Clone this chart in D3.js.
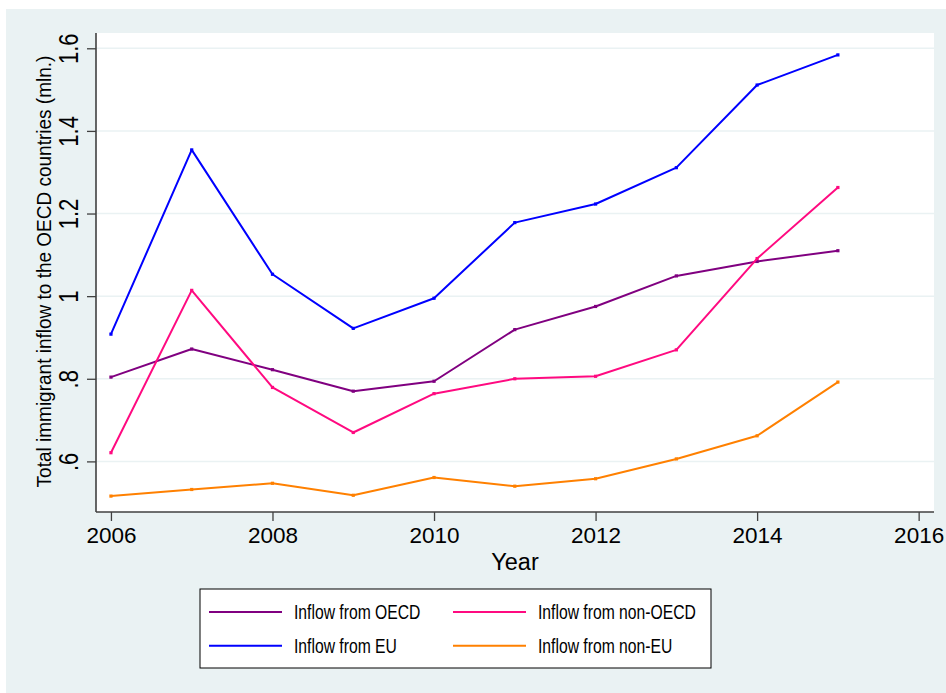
<!DOCTYPE html>
<html>
<head>
<meta charset="utf-8">
<script src="https://cdn.jsdelivr.net/npm/d3@7"></script>
<style>
html,body{margin:0;padding:0;background:#ffffff;}
svg{display:block;font-family:"Liberation Sans",Arial,sans-serif;}
</style>
</head>
<body>
<svg id="chart" width="946" height="693"></svg>
<script>
const years = [2006, 2007, 2008, 2009, 2010, 2011, 2012, 2013, 2014, 2015];
const inflowOECD    = [0.804, 0.872, 0.822, 0.770, 0.794, 0.919, 0.975, 1.049, 1.084, 1.110];
const inflowNonOECD = [0.621, 1.014, 0.779, 0.670, 0.764, 0.800, 0.806, 0.870, 1.091, 1.263];
const inflowEU      = [0.908, 1.354, 1.053, 0.922, 0.995, 1.178, 1.223, 1.311, 1.511, 1.584];
const inflowNonEU   = [0.516, 0.532, 0.547, 0.518, 0.561, 0.540, 0.558, 0.606, 0.662, 0.792];
const xTicks = [2006, 2008, 2010, 2012, 2014, 2016];
const yTicks = [0.6, 0.8, 1.0, 1.2, 1.4, 1.6];
const yTickLabels = [".6", ".8", "1", "1.2", "1.4", "1.6"];
const seriesNames = ["Inflow from OECD", "Inflow from non-OECD", "Inflow from EU", "Inflow from non-EU"];
const seriesColors = ["#800080", "#FF0A80", "#0000FF", "#FF8000"];
const seriesValues = [inflowOECD, inflowNonOECD, inflowEU, inflowNonEU];

const svg = d3.select("#chart");
const W = 946, H = 693;
svg.append("rect").attr("x",0).attr("y",0).attr("width",W).attr("height",H).attr("fill","#ffffff");
svg.append("rect").attr("x",6).attr("y",9).attr("width",W-6).attr("height",H-9).attr("fill","#EAF2F3");

const plot = {left:96, top:33, right:934, bottom:512};
svg.append("rect").attr("x",plot.left).attr("y",plot.top)
  .attr("width",plot.right-plot.left).attr("height",plot.bottom-plot.top).attr("fill","#ffffff");

const x = d3.scaleLinear().domain([2005.815, 2016.19]).range([plot.left, plot.right]);
const y = d3.scaleLinear().domain([0.4775, 1.637]).range([plot.bottom, plot.top]);

// gridlines
svg.append("g").selectAll("line").data(yTicks).join("line")
  .attr("x1",plot.left).attr("x2",plot.right)
  .attr("y1",d=>y(d)).attr("y2",d=>y(d))
  .attr("stroke","#EAF2F3").attr("stroke-width",1.5);

// axes
const xAxis = d3.axisBottom(x).tickValues(xTicks).tickFormat(d3.format("d")).tickSize(9).tickSizeOuter(0);
const gx = svg.append("g").attr("transform",`translate(0,${plot.bottom})`).call(xAxis);
gx.select(".domain").attr("stroke","#404040").attr("stroke-width",1.6)
  .attr("d",`M${plot.left},0H${plot.right}`);
gx.selectAll(".tick line").attr("stroke","#404040").attr("stroke-width",1.3);
gx.selectAll(".tick text").attr("font-size","22.5px").attr("fill","#000")
  .attr("font-family","'Liberation Sans',Arial,sans-serif").attr("dy","0").attr("y",31);

const yAxis = d3.axisLeft(y).tickValues(yTicks).tickFormat((d,i)=>yTickLabels[i]).tickSize(9).tickSizeOuter(0);
const gy = svg.append("g").attr("transform",`translate(${plot.left},0)`).call(yAxis);
gy.select(".domain").attr("stroke","#404040").attr("stroke-width",1.6)
  .attr("d",`M0,${plot.bottom}V${plot.top}`);
gy.selectAll(".tick line").attr("stroke","#404040").attr("stroke-width",1.3);
gy.selectAll(".tick text").attr("font-size","22px").attr("fill","#000")
  .attr("font-family","'Liberation Sans',Arial,sans-serif")
  .attr("x",null).attr("dy",null)
  .attr("text-anchor","middle")
  .attr("transform","translate(-28,0) rotate(-90) scale(1,1.22)")
  .attr("y",0).attr("dy","0.36em");

// axis titles
svg.append("text").attr("x",(plot.left+plot.right)/2).attr("y",570)
  .attr("text-anchor","middle").attr("font-size","23.5px").attr("fill","#000").text("Year");
svg.append("text").attr("transform",`translate(51,271.5) rotate(-90) scale(1,1.1)`)
  .attr("text-anchor","middle").attr("font-size","19px").attr("fill","#000")
  .text("Total immigrant inflow to the OECD countries (mln.)");

// lines
const line = d3.line().x((d,i)=>x(years[i])).y(d=>y(d));
seriesValues.forEach((vals, k) => {
  svg.append("path").datum(vals).attr("d", line)
    .attr("fill","none").attr("stroke",seriesColors[k]).attr("stroke-width",2)
    .attr("stroke-linejoin","round");
  svg.append("g").selectAll("rect").data(vals).join("rect")
    .attr("x",(d,i)=>x(years[i])-1.6).attr("y",d=>y(d)-1.6)
    .attr("width",3.2).attr("height",3.2).attr("fill",seriesColors[k]);
});

// legend
const lg = svg.append("g");
lg.append("rect").attr("x",200).attr("y",589).attr("width",511).attr("height",79)
  .attr("fill","#ffffff").attr("stroke","#000").attr("stroke-width",1);
seriesNames.forEach((name, k) => {
  const col = k % 2, row = Math.floor(k/2);
  const lx = 209 + col*244, ly = 612 + row*33.7;
  lg.append("line").attr("x1",lx).attr("x2",lx+73).attr("y1",ly).attr("y2",ly)
    .attr("stroke",seriesColors[k]).attr("stroke-width",2);
  lg.append("text").attr("transform",`translate(${lx+85},${ly+7.3}) scale(1,1.25)`)
    .attr("font-size","15.7px").attr("fill","#000").text(name);
});
</script>
</body>
</html>
